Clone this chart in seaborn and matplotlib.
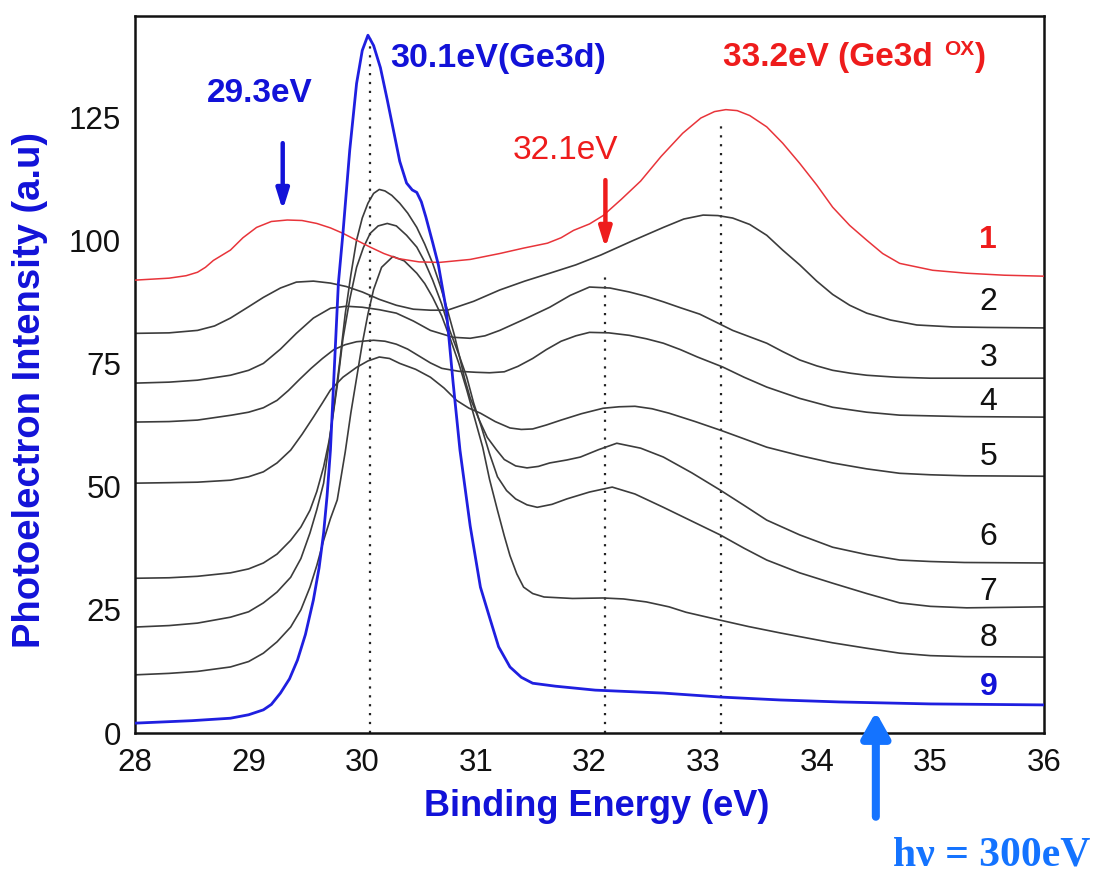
import numpy as np
import pandas as pd
import matplotlib
matplotlib.use("Agg")
import matplotlib.pyplot as plt
import seaborn as sns

# ---------------- data ----------------
E1 = [28.0, 28.3, 28.45, 28.55, 28.62, 28.69, 28.84, 28.95, 29.07, 29.2, 29.34, 29.47, 29.6, 29.72, 29.83, 29.95,
      30.07, 30.19, 30.31, 30.5, 30.68, 30.95, 31.21, 31.42, 31.63, 31.75, 31.86, 32.0, 32.12, 32.28,
      32.45, 32.63, 32.82, 32.98, 33.1, 33.2, 33.3, 33.41, 33.56, 33.7, 33.85, 34.0, 34.14, 34.29,
      34.44, 34.58, 34.73, 35.02, 35.32, 35.65, 36.0]
I1 = [91.9, 92.3, 92.8, 93.5, 94.5, 95.9, 98.0, 100.5, 102.6, 103.8, 104.1, 104.0, 103.4, 102.5, 101.4, 100.0,
      98.6, 97.3, 96.3, 95.6, 95.5, 96.1, 97.3, 98.4, 99.4, 100.5, 102.0, 103.3, 105.0, 108.3,
      112.0, 117.0, 121.7, 124.8, 126.1, 126.5, 126.3, 125.3, 123.0, 119.7, 115.6, 111.2, 106.7, 103.0,
      100.0, 97.3, 95.3, 93.9, 93.3, 92.9, 92.7]

E2 = [28.0, 28.3, 28.55, 28.7, 28.84, 29.0, 29.13, 29.28, 29.42, 29.57, 29.72, 29.86, 30.0, 30.15,
      30.3, 30.45, 30.6, 30.75, 30.98, 31.21, 31.43, 31.65, 31.88, 32.1, 32.38, 32.65, 32.83, 33.0,
      33.13, 33.26, 33.41, 33.56, 33.7, 33.85, 34.0, 34.14, 34.29, 34.44, 34.65, 34.88, 35.2, 35.5, 36.0]
I2 = [81.1, 81.2, 81.7, 82.6, 84.2, 86.5, 88.4, 90.3, 91.5, 91.7, 91.3, 90.6, 89.5, 88.0,
      86.8, 86.0, 85.8, 85.8, 87.6, 89.9, 91.7, 93.3, 95.0, 97.0, 99.9, 102.6, 104.3, 105.1,
      105.0, 104.5, 103.2, 101.0, 98.0, 95.0, 91.7, 89.0, 86.8, 85.2, 83.8, 82.8, 82.4, 82.3, 82.2]

E3 = [28.0, 28.3, 28.55, 28.84, 29.0, 29.13, 29.28, 29.42, 29.57, 29.72, 29.86, 30.0, 30.15, 30.3,
      30.45, 30.6, 30.8, 30.95, 31.08, 31.21, 31.43, 31.65, 31.83, 32.0, 32.18, 32.35, 32.5, 32.65,
      32.8, 32.97, 33.12, 33.26, 33.41, 33.56, 33.7, 33.85, 34.0, 34.14, 34.3, 34.44, 34.7, 35.0, 36.0]
I3 = [71.0, 71.2, 71.6, 72.6, 73.6, 75.0, 77.9, 81.1, 84.2, 86.2, 86.6, 86.4, 85.9, 85.2,
      83.6, 81.7, 80.3, 80.1, 80.6, 81.7, 84.0, 86.4, 88.8, 90.5, 90.3, 89.5, 88.6, 87.5,
      86.3, 85.0, 83.3, 81.7, 80.4, 79.1, 77.4, 75.7, 74.5, 73.6, 73.0, 72.6, 72.2, 72.0, 72.0]

E4 = [28.0, 28.3, 28.55, 28.85, 29.0, 29.13, 29.25, 29.35, 29.45, 29.55, 29.65, 29.75, 29.85, 29.95,
      30.1, 30.2, 30.3, 30.4, 30.5, 30.6, 30.7, 30.85, 31.0, 31.12, 31.25, 31.37, 31.5, 31.62, 31.75,
      31.88, 32.0, 32.17, 32.35, 32.5, 32.65, 32.8, 32.95, 33.17, 33.36, 33.56, 33.85, 34.14, 34.44,
      34.73, 35.3, 36.0]
I4 = [63.1, 63.2, 63.5, 64.5, 65.1, 66.0, 67.5, 69.5, 71.8, 74.0, 76.0, 77.8, 78.8, 79.4,
      79.7, 79.5, 78.9, 77.9, 76.5, 75.1, 74.0, 73.4, 73.2, 73.1, 73.3, 74.4, 76.0, 77.8, 79.5,
      80.6, 81.3, 81.2, 80.7, 80.0, 79.1, 77.8, 76.3, 74.3, 72.2, 70.2, 67.9, 66.1, 65.1,
      64.5, 64.2, 64.1]

E5 = [28.0, 28.3, 28.55, 28.84, 29.0, 29.13, 29.25, 29.37, 29.47, 29.57, 29.65, 29.72, 29.83, 29.95,
      30.05, 30.15, 30.24, 30.33, 30.47, 30.6, 30.72, 30.83, 30.94, 31.04, 31.17, 31.3, 31.4, 31.5,
      31.62, 31.75, 31.93, 32.12, 32.26, 32.4, 32.55, 32.7, 32.93, 33.17, 33.36, 33.56, 33.85, 34.14,
      34.44, 34.73, 35.0, 35.3, 36.0]
I5 = [50.7, 50.8, 50.9, 51.3, 52.0, 53.0, 54.8, 57.4, 60.6, 64.1, 67.0, 69.6, 72.2, 74.2,
      75.5, 76.3, 76.0, 75.0, 73.8, 72.2, 70.0, 67.5, 65.9, 64.9, 63.2, 61.9, 61.6, 61.7,
      62.5, 63.5, 64.8, 65.9, 66.2, 66.3, 65.8, 64.9, 63.2, 61.3, 59.7, 58.0, 56.3, 54.8,
      53.6, 52.7, 52.4, 52.2, 52.1]

E6 = [28.0, 28.3, 28.55, 28.84, 29.0, 29.13, 29.25, 29.37, 29.46, 29.54, 29.6, 29.66, 29.71, 29.75,
      29.8, 29.85, 29.9, 29.95, 30.0, 30.05, 30.1, 30.15, 30.2, 30.26, 30.33, 30.4, 30.48, 30.55,
      30.62, 30.69, 30.75, 30.81, 30.86, 30.9, 30.95, 31.03, 31.1, 31.18, 31.25, 31.35, 31.45, 31.55,
      31.65, 31.8, 31.92, 32.08, 32.24, 32.45, 32.65, 32.9, 33.15, 33.36, 33.56, 33.85, 34.14, 34.44,
      34.73, 35.0, 35.3, 36.0]
I6 = [31.4, 31.5, 31.8, 32.5, 33.3, 34.5, 36.3, 39.1, 41.8, 45.2, 49.0, 54.0, 59.5, 66.0,
      75.0, 85.0, 93.0, 100.0, 104.5, 107.5, 109.5, 110.3, 110.0, 109.1, 107.5, 105.5, 102.6, 99.2,
      95.3, 90.5, 85.8, 80.8, 76.0, 72.0, 68.0, 63.5, 60.0, 57.5, 55.5, 54.2, 53.8, 54.1,
      54.8, 55.4, 56.0, 57.5, 58.8, 57.8, 56.0, 52.8, 49.3, 46.2, 43.2, 40.2, 37.7, 36.2,
      35.1, 34.8, 34.6, 34.5]

E7 = [28.0, 28.3, 28.55, 28.84, 29.0, 29.13, 29.25, 29.37, 29.46, 29.54, 29.6, 29.66, 29.72, 29.78,
      29.83, 29.89, 29.95, 30.01, 30.07, 30.14, 30.22, 30.3, 30.39, 30.48, 30.55, 30.62, 30.7, 30.77,
      30.85, 30.92, 30.98, 31.05, 31.12, 31.19, 31.27, 31.35, 31.45, 31.54, 31.67, 31.8, 32.0, 32.2,
      32.4, 32.65, 32.9, 33.15, 33.36, 33.56, 33.85, 34.14, 34.44, 34.73, 35.0, 35.32, 36.0]
I7 = [21.5, 21.8, 22.3, 23.5, 24.6, 26.4, 28.6, 31.6, 35.4, 40.6, 45.3, 50.7, 60.8, 70.5,
      80.0, 88.0, 94.5, 98.5, 101.4, 102.9, 103.4, 102.9, 101.0, 98.6, 95.6, 91.9, 87.0, 81.7,
      76.8, 72.2, 67.0, 62.0, 56.7, 52.0, 49.2, 47.5, 46.3, 45.8, 46.4, 47.5, 48.9, 49.9,
      48.5, 45.8, 43.0, 40.2, 37.5, 35.1, 32.5, 30.4, 28.3, 26.4, 25.7, 25.4, 25.6]

E8 = [28.0, 28.3, 28.55, 28.84, 29.0, 29.13, 29.25, 29.37, 29.46, 29.54, 29.6, 29.66, 29.72, 29.78,
      29.85, 29.9, 29.95, 30.0, 30.05, 30.1, 30.17, 30.27, 30.37, 30.48, 30.55, 30.62, 30.7, 30.77,
      30.85, 30.92, 30.99, 31.06, 31.12, 31.19, 31.25, 31.3, 31.36, 31.42, 31.5, 31.6, 31.85, 32.12,
      32.3, 32.5, 32.7, 32.85, 33.0, 33.15, 33.4, 33.68, 34.14, 34.44, 34.73, 35.0, 35.3, 36.0]
I8 = [11.8, 12.1, 12.5, 13.4, 14.5, 16.2, 18.5, 21.5, 25.0, 29.6, 34.0, 39.1, 43.5, 47.3,
      57.0, 65.0, 72.0, 79.0, 85.0, 90.0, 94.5, 96.7, 95.8, 93.3, 91.2, 88.4, 84.6, 80.3,
      75.0, 69.6, 63.8, 58.0, 51.5, 45.2, 40.0, 36.0, 32.3, 29.6, 28.3, 27.6, 27.3, 27.4,
      27.2, 26.6, 25.6, 24.5, 23.7, 22.9, 21.6, 20.3, 18.3, 17.2, 16.2, 15.7, 15.5, 15.4]

E9 = [28.0, 28.5, 28.84, 29.0, 29.13, 29.2, 29.28, 29.36, 29.43, 29.5, 29.57, 29.62, 29.66, 29.69,
      29.72, 29.75, 29.79, 29.83, 29.89, 29.95, 30.0, 30.05, 30.1, 30.16, 30.22, 30.28, 30.33, 30.39,
      30.44, 30.48, 30.52, 30.56, 30.62, 30.67, 30.74, 30.8, 30.86, 30.95, 31.04, 31.12, 31.2, 31.3,
      31.4, 31.5, 31.7, 32.05, 32.65, 33.15, 33.68, 34.2, 35.0, 36.0]
I9 = [2.0, 2.5, 3.0, 3.7, 4.7, 5.8, 8.1, 11.0, 14.8, 20.0, 27.0, 33.5, 40.6, 48.0,
      57.4, 72.0, 91.3, 101.4, 118.3, 131.8, 138.5, 141.6, 139.5, 135.0, 128.5, 121.7, 116.0, 111.6,
      110.2, 109.7, 107.8, 104.7, 99.5, 95.0, 85.8, 71.0, 57.4, 42.0, 29.6, 23.5, 17.5, 13.4,
      11.3, 10.1, 9.5, 8.7, 8.1, 7.3, 6.7, 6.3, 5.9, 5.7]

curve_names = ["1", "2", "3", "4", "5", "6", "7", "8", "9"]
curve_E = [E1, E2, E3, E4, E5, E6, E7, E8, E9]
curve_I = [I1, I2, I3, I4, I5, I6, I7, I8, I9]
label_y = [100.0, 87.4, 76.1, 67.1, 56.0, 39.8, 28.6, 19.3, 9.3]
label_x = 35.51

peak_lines = [30.07, 32.14, 33.16]          # dotted guide lines (eV)
peak_line_tops = [141.0, 92.5, 124.0]
x_ticks = [28, 29, 30, 31, 32, 33, 34, 35, 36]
y_ticks = [0, 25, 50, 75, 100, 125]

# ---------------- style ----------------
sns.set_theme(style="white")
plt.rcParams["font.family"] = ["Liberation Sans", "DejaVu Sans"]

BLUE = "#1212d8"
RED = "#ee1c1c"
LBLUE = "#1473ff"
colors = {"1": "#e8343a", "2": "#3c3c3c", "3": "#3c3c3c", "4": "#3c3c3c", "5": "#3c3c3c",
          "6": "#3c3c3c", "7": "#3c3c3c", "8": "#3c3c3c", "9": "#1f1fe0"}
widths = {n: 1.2 for n in curve_names}
widths["1"] = 1.1
widths["9"] = 2.0

rows = []
for n, es, vs in zip(curve_names, curve_E, curve_I):
    for e, v in zip(es, vs):
        rows.append({"curve": n, "E": e, "I": v})
df = pd.DataFrame(rows)

fig = plt.figure(figsize=(11.03, 8.72), dpi=100)
ax = fig.add_axes([135 / 1103, 1 - 733 / 872, (1044 - 135) / 1103, (733 - 16) / 872])

for n in curve_names:
    sub = df[df["curve"] == n]
    sns.lineplot(data=sub, x="E", y="I", ax=ax, color=colors[n], lw=widths[n],
                 estimator=None, sort=False, legend=False, zorder=3 if n in ("1", "9") else 2)

# dotted guide lines
for xl, top in zip(peak_lines, peak_line_tops):
    ax.vlines(xl, 0, top, colors="#222222", linestyles=(0, (1, 3)), lw=1.6, zorder=1)

ax.set_xlim(28, 36)
ax.set_ylim(0, 145.5)
ax.set_xticks(x_ticks)
ax.set_yticks(y_ticks)
ax.tick_params(axis="both", direction="in", length=8, width=1.8, labelsize=22.5, colors="#111111")
ax.tick_params(axis="x", pad=11)
ax.tick_params(axis="y", pad=10)
for s in ax.spines.values():
    s.set_linewidth(1.8)
    s.set_color("#111111")

ax.set_xlabel("Binding Energy (eV)", fontsize=26, fontweight="bold", color=BLUE)
ax.set_ylabel("Photoelectron Intensity (a.u)", fontsize=27.5, fontweight="bold", color=BLUE)
ax.xaxis.set_label_coords(0.508, -0.078)
ax.xaxis.label.set_va("top")
ax.yaxis.set_label_coords(-0.1155, 0.478)
ax.yaxis.label.set_va("center")

# curve numbers
for n, yv in zip(curve_names, label_y):
    if n == "1":
        c, w = RED, "bold"
    elif n == "9":
        c, w = BLUE, "bold"
    else:
        c, w = "#111111", "normal"
    ax.text(label_x, yv, n, fontsize=23, color=c, fontweight=w, ha="center", va="center")

# annotations
ax.text(29.10, 129.8, "29.3eV", fontsize=24, fontweight="bold", color=BLUE, ha="center", va="center")
ax.text(30.245, 136.9, "30.1eV(Ge3d)", fontsize=24.5, fontweight="bold", color=BLUE, ha="left", va="center")
t1 = ax.text(33.176, 137.1, "33.2eV (Ge3d", fontsize=24, fontweight="bold", color=RED, ha="left", va="center")
t2 = ax.annotate("OX", xy=(1, 0.75), xycoords=t1, xytext=(8, 0), textcoords="offset points",
                 fontsize=15, fontweight="bold", color=RED, ha="left", va="center")
ax.annotate(")", xy=(1, 0.5), xycoords=(t2, t1), xytext=(0, 0), textcoords="offset points",
            fontsize=24, fontweight="bold", color=RED, ha="left", va="center")
ax.text(31.79, 118.3, "32.1eV", fontsize=24, color=RED, ha="center", va="center")

ax.annotate("", xy=(29.30, 106.1), xytext=(29.30, 119.7),
            arrowprops=dict(arrowstyle="-|>,head_length=0.8,head_width=0.25", lw=3.2,
                            color=BLUE, shrinkA=0, shrinkB=0, mutation_scale=15))
ax.annotate("", xy=(32.14, 98.4), xytext=(32.14, 112.2),
            arrowprops=dict(arrowstyle="-|>,head_length=0.8,head_width=0.25", lw=3.2,
                            color=RED, shrinkA=0, shrinkB=0, mutation_scale=15))
ax.annotate("", xy=(34.52, 4.3), xytext=(34.52, -17.0), annotation_clip=False,
            arrowprops=dict(arrowstyle="-|>,head_length=0.75,head_width=0.42", lw=5.8,
                            color=LBLUE, shrinkA=0, shrinkB=0, mutation_scale=20))

fig.text(893 / 1103, 1 - 855 / 872, "h\u03bd = 300eV", fontsize=30, fontweight="bold", color=LBLUE,
         family=["Liberation Serif", "DejaVu Serif"], ha="left", va="center")

fig.savefig("out.png", dpi=100)
